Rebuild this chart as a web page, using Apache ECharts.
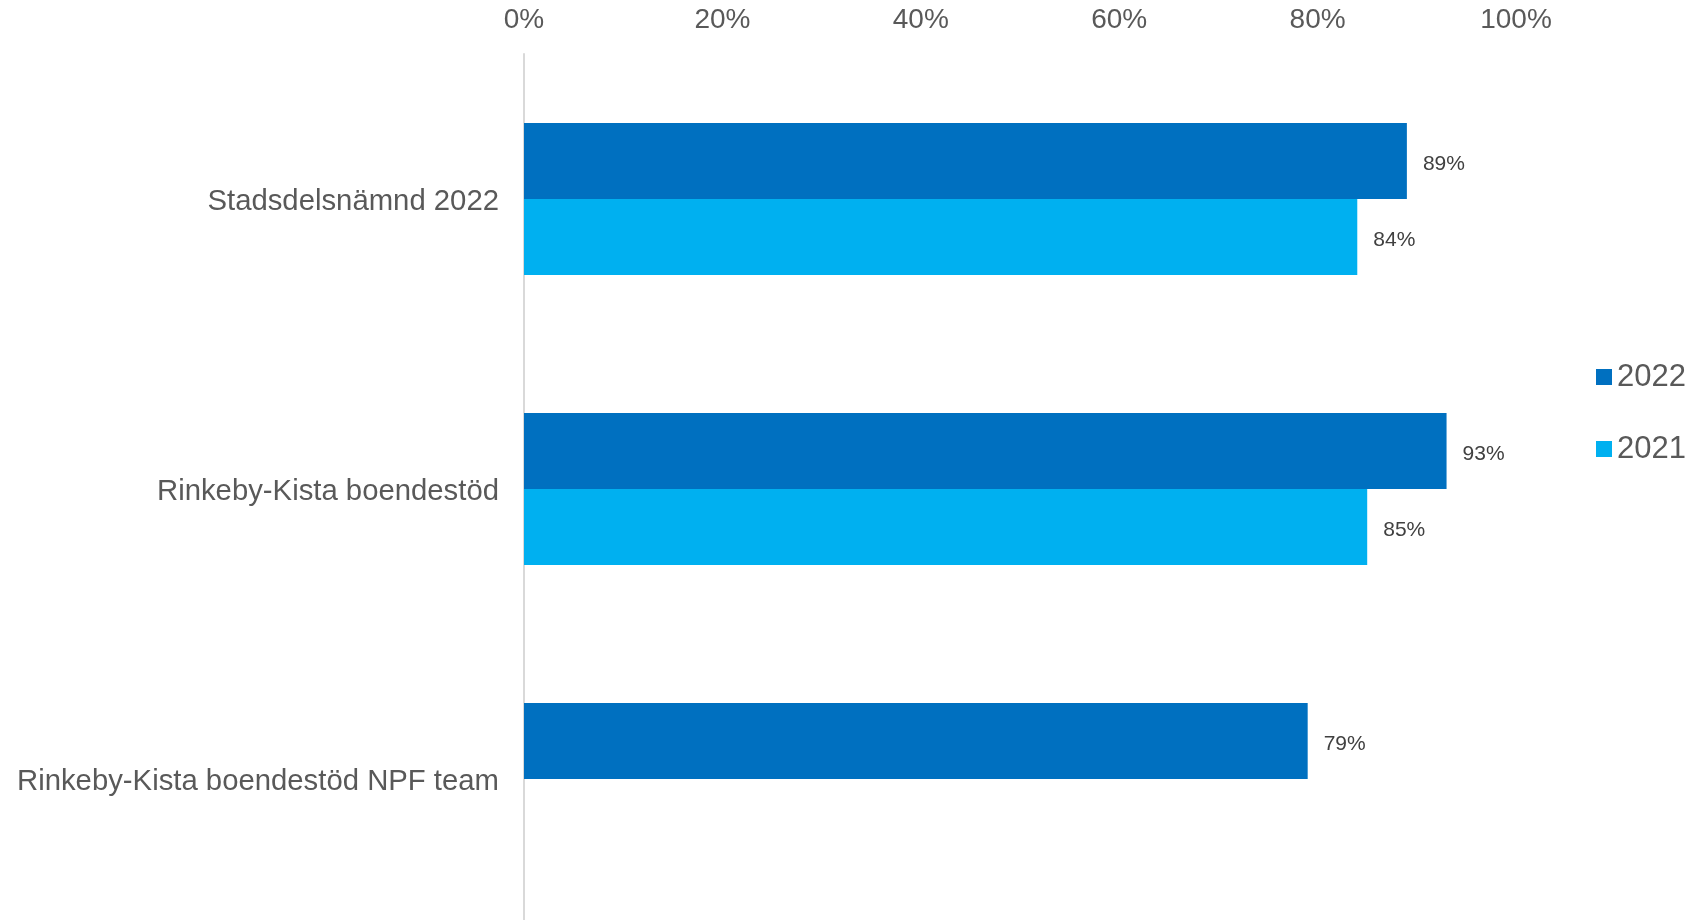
<!DOCTYPE html>
<html>
<head>
<meta charset="utf-8">
<script src="https://cdn.jsdelivr.net/npm/echarts@6/dist/echarts.min.js"></script>
<style>
html,body{margin:0;padding:0;background:#fff;}
#chart{width:1696px;height:920px;}
</style>
</head>
<body>
<div id="chart"></div>
<script>
const categories = ['Stadsdelsnämnd 2022', 'Rinkeby-Kista boendestöd', 'Rinkeby-Kista boendestöd NPF team'];
const seriesNames = ['2022', '2021'];
const values2022 = [89, 93, 79];
const values2021 = [84, 85, null];
const tickMin = 0, tickMax = 100, tickStep = 20;

const FONT = "'Liberation Sans', Arial, sans-serif";
const chart = echarts.init(document.getElementById('chart'));
const labelCfg = {
  show: true, position: 'right', distance: 16, offset: [0, 3],
  formatter: p => Math.round(p.value) + '%',
  color: '#404040', fontSize: 21, fontFamily: FONT
};
chart.setOption({
  animation: false,
  backgroundColor: '#ffffff',
  textStyle: { fontFamily: FONT },
  grid: { left: 524, right: 180, top: 54, height: 870, outerBoundsMode: 'none', containLabel: false },
  legend: {
    orient: 'vertical', left: 1591, top: 355,
    itemWidth: 16, itemHeight: 16, itemGap: 38,
    icon: 'rect',
    textStyle: { fontSize: 31, color: '#595959', fontFamily: FONT, lineHeight: 34 },
    data: seriesNames
  },
  xAxis: {
    type: 'value', position: 'top', min: tickMin, max: tickMax, interval: tickStep,
    axisLine: { show: false }, axisTick: { show: false }, splitLine: { show: false },
    axisLabel: { formatter: v => v + '%', fontSize: 28, color: '#595959', margin: 20, fontFamily: FONT }
  },
  yAxis: {
    type: 'category', inverse: true, data: categories,
    axisLine: { show: true, lineStyle: { color: '#D9D9D9', width: 2 } },
    axisTick: { show: false },
    axisLabel: {
      margin: 25,
      formatter: v => '{c|' + v + '}',
      rich: { c: { fontSize: 29.3, color: '#595959', fontFamily: FONT, padding: [6, 0, 0, 0] } }
    }
  },
  series: [
    { name: seriesNames[0], type: 'bar', data: values2022, barWidth: 76, barGap: '0%',
      itemStyle: { color: '#0070C0' }, label: labelCfg },
    { name: seriesNames[1], type: 'bar', data: values2021, barWidth: 76, barGap: '0%',
      itemStyle: { color: '#00B0F0' }, label: labelCfg }
  ]
});
</script>
</body>
</html>
